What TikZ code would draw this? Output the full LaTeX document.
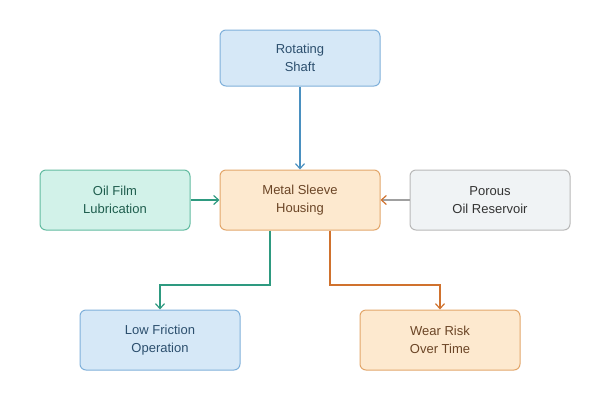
\documentclass[tikz,border=0pt]{standalone}
\usepackage{fontspec}
\setmainfont{Liberation Sans}
\usetikzlibrary{arrows.meta}
\definecolor{bfill}{HTML}{D6E8F7}
\definecolor{bdraw}{HTML}{7FB0DA}
\definecolor{btext}{HTML}{2C4F6E}
\definecolor{tfill}{HTML}{D2F2E9}
\definecolor{tdraw}{HTML}{62BBA0}
\definecolor{ttext}{HTML}{1F5E4E}
\definecolor{ofill}{HTML}{FDE9CF}
\definecolor{odraw}{HTML}{E2A66A}
\definecolor{otext}{HTML}{6B4526}
\definecolor{gfill}{HTML}{F0F3F5}
\definecolor{gdraw}{HTML}{B8B8B8}
\definecolor{gtext}{HTML}{333333}
\definecolor{barrow}{HTML}{4A90C0}
\definecolor{tarrow}{HTML}{2E9A80}
\definecolor{oarrow}{HTML}{D0722E}
\definecolor{garrow}{HTML}{A0A0A0}
\tikzset{
  box/.style={draw, rounded corners=6pt, line width=1pt, minimum width=160pt, minimum height=56pt, align=center, font=\fontsize{13}{18}\selectfont, inner sep=0pt},
  bluebox/.style={box, fill=bfill, draw=bdraw, text=btext},
  tealbox/.style={box, fill=tfill, draw=tdraw, text=ttext},
  orangebox/.style={box, fill=ofill, draw=odraw, text=otext},
  greybox/.style={box, fill=gfill, draw=gdraw, text=gtext},
  conn/.style={line width=1.2pt, -{Straight Barb[length=5pt,width=9pt,line width=1.2pt]}},
}
\begin{document}
\begin{tikzpicture}[x=1pt,y=-1pt]
\useasboundingbox (0,0) rectangle (600,400);
\node[bluebox] (shaft) at (300,58) {Rotating\\Shaft};
\node[tealbox, minimum width=150pt, minimum height=60pt] (oil) at (115,200) {Oil Film\\Lubrication};
\node[orangebox, minimum height=60pt] (sleeve) at (300,200) {Metal Sleeve\\Housing};
\node[greybox, minimum height=60pt] (porous) at (490,200) {Porous\\Oil Reservoir};
\node[bluebox, minimum height=60pt] (low) at (160,340) {Low Friction\\Operation};
\node[orangebox, minimum height=60pt] (wear) at (440,340) {Wear Risk\\Over Time};
\draw[conn, barrow] (shaft) -- (sleeve);
\draw[conn, tarrow] (oil) -- (sleeve);
\draw[line width=1.2pt, garrow, -{Straight Barb[length=5pt,width=9pt,line width=1.2pt,color=oarrow]}] (porous) -- (sleeve);
\draw[conn, tarrow] (sleeve.south -| 270,0) |- (160,285) -- (low.north);
\draw[conn, oarrow] (sleeve.south -| 330,0) |- (440,285) -- (wear.north);
\end{tikzpicture}
\end{document}
